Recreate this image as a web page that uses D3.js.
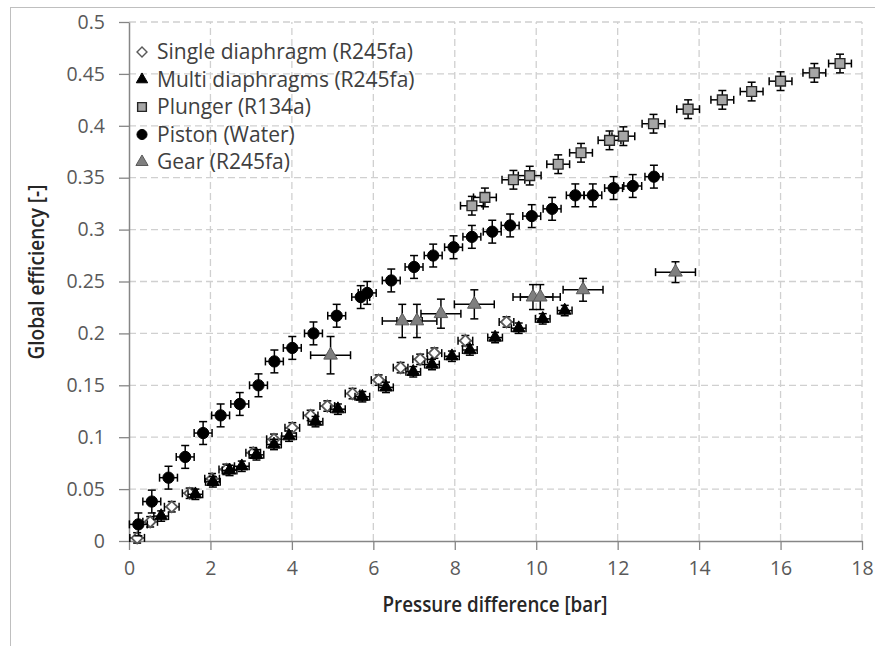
<!DOCTYPE html>
<html>
<head>
<meta charset="utf-8">
<script src="https://cdn.jsdelivr.net/npm/d3@7"></script>
<style>
  body { margin: 0; background: #fff; }
  text { font-family: "Open Sans", "Noto Sans", sans-serif; }
</style>
</head>
<body>
<div id="chart"></div>
<script>
// values
var seriesNames = ["Single diaphragm (R245fa)", "Multi diaphragms (R245fa)", "Plunger (R134a)", "Piston (Water)", "Gear (R245fa)"];

var singleX = [0.2, 0.52, 1.05, 1.49, 2.04, 2.39, 3.05, 3.56, 4.01, 4.46, 4.87, 5.49, 6.13, 6.67, 7.15, 7.5, 8.26, 9.27];
var singleY = [0.003, 0.0185, 0.033, 0.046, 0.06, 0.069, 0.085, 0.098, 0.109, 0.121, 0.13, 0.142, 0.155, 0.167, 0.175, 0.181, 0.193, 0.211];

var multiX = [0.79, 1.63, 2.06, 2.47, 2.77, 3.13, 3.56, 3.93, 4.58, 5.13, 5.73, 6.31, 6.98, 7.44, 7.93, 8.37, 8.99, 9.57, 10.16, 10.7];
var multiY = [0.024, 0.045, 0.057, 0.068, 0.072, 0.083, 0.093, 0.101, 0.115, 0.127, 0.139, 0.148, 0.163, 0.17, 0.178, 0.184, 0.196, 0.205, 0.214, 0.222];

var plungerX = [8.42, 8.74, 9.44, 9.84, 10.54, 11.1, 11.8, 12.14, 12.88, 13.73, 14.57, 15.29, 16.0, 16.83, 17.46];
var plungerY = [0.323, 0.331, 0.348, 0.352, 0.363, 0.374, 0.386, 0.39, 0.402, 0.416, 0.425, 0.433, 0.443, 0.451, 0.46];

var pistonX = [0.23, 0.56, 0.97, 1.38, 1.82, 2.25, 2.72, 3.18, 3.57, 4.01, 4.53, 5.1, 5.69, 5.85, 6.44, 7.0, 7.47, 7.97, 8.42, 8.92, 9.36, 9.89, 10.39, 10.96, 11.39, 11.9, 12.37, 12.89];
var pistonY = [0.016, 0.038, 0.061, 0.081, 0.104, 0.121, 0.132, 0.15, 0.173, 0.186, 0.2, 0.217, 0.235, 0.239, 0.251, 0.264, 0.275, 0.283, 0.293, 0.298, 0.304, 0.313, 0.32, 0.333, 0.333, 0.34, 0.342, 0.351];

var gearX = [4.95, 6.71, 7.07, 7.66, 8.48, 9.92, 10.1, 11.15, 13.42];
var gearY = [0.179, 0.212, 0.212, 0.219, 0.228, 0.235, 0.235, 0.242, 0.259];
var gearYErr = [0.018, 0.016, 0.016, 0.014, 0.014, 0.012, 0.012, 0.011, 0.01];

// error half widths per series: [x, y]
var singleErr = [0.18, 0.005];
var multiErr = [0.18, 0.005];
var plungerErr = [0.28, 0.009];
var pistonErr = [0.22, 0.011];
var gearXErr = 0.49;

var xTicks = [0, 2, 4, 6, 8, 10, 12, 14, 16, 18];
var yTicks = [0, 0.05, 0.1, 0.15, 0.2, 0.25, 0.3, 0.35, 0.4, 0.45, 0.5];
var yTickLabels = ["0", "0.05", "0.1", "0.15", "0.2", "0.25", "0.3", "0.35", "0.4", "0.45", "0.5"];

var width = 875, height = 646;

var x = d3.scaleLinear().domain([0, 18]).range([129, 862]);
var y = d3.scaleLinear().domain([0, 0.5]).range([541, 22]);

var svg = d3.select("#chart").append("svg")
    .attr("width", width)
    .attr("height", height);

// outer frame (cut off at right and bottom like the source)
svg.append("rect")
    .attr("x", 10.5).attr("y", 7.5)
    .attr("width", 900).attr("height", 700)
    .attr("fill", "none")
    .attr("stroke", "#bfbfbf");

// grid
var grid = svg.append("g").attr("stroke", "#d0d0d0").attr("stroke-width", 1.3).attr("stroke-dasharray", "7,4");
grid.selectAll(".gx").data(xTicks.slice(1)).enter().append("line")
    .attr("x1", d => x(d)).attr("x2", d => x(d))
    .attr("y1", y(0)).attr("y2", y(0.5));
grid.selectAll(".gy").data(yTicks.slice(1)).enter().append("line")
    .attr("y1", d => y(d)).attr("y2", d => y(d))
    .attr("x1", x(0)).attr("x2", x(18));

// axes
var yAxis = d3.axisLeft(y).tickValues(yTicks)
    .tickFormat((d, i) => yTickLabels[i])
    .tickSizeInner(10).tickSizeOuter(0).tickPadding(14);
var xAxis = d3.axisBottom(x).tickValues(xTicks)
    .tickFormat(d3.format("d"))
    .tickSizeInner(9).tickSizeOuter(0).tickPadding(11);

var gy = svg.append("g").attr("transform", "translate(" + x(0) + ",0)").call(yAxis);
var gx = svg.append("g").attr("transform", "translate(0," + y(0) + ")").call(xAxis);

[gx, gy].forEach(function(g) {
  g.select(".domain").attr("stroke", "#868686").attr("stroke-width", 1.5);
  g.selectAll(".tick line").attr("stroke", "#868686").attr("stroke-width", 1.3);
  g.selectAll(".tick text")
      .attr("fill", "#595959")
      .style("font-size", "19.5px")
      .style("font-family", "'Open Sans', sans-serif");
});

svg.append("text")
    .attr("x", 495).attr("y", 612)
    .attr("text-anchor", "middle")
    .attr("textLength", 225).attr("lengthAdjust", "spacingAndGlyphs")
    .attr("fill", "#262626")
    .style("font-size", "21px").style("font-weight", 600)
    .text("Pressure difference [bar]");

svg.append("text")
    .attr("transform", "translate(44,272) rotate(-90)")
    .attr("text-anchor", "middle")
    .attr("textLength", 175).attr("lengthAdjust", "spacingAndGlyphs")
    .attr("fill", "#262626")
    .style("font-size", "21px").style("font-weight", 600)
    .text("Global efficiency [-]");

// series table built from the arrays above
var series = [
  {name: seriesNames[0], xs: singleX, ys: singleY, ex: () => singleErr[0], ey: () => singleErr[1],
   type: d3.symbolSquare, size: 62, rot: 45, fill: "#ffffff", stroke: "#595959", sw: 1.8},
  {name: seriesNames[1], xs: multiX, ys: multiY, ex: () => multiErr[0], ey: () => multiErr[1],
   type: d3.symbolTriangle, size: 70, rot: 0, fill: "#000000", stroke: "#000000", sw: 1},
  {name: seriesNames[2], xs: plungerX, ys: plungerY, ex: () => plungerErr[0], ey: () => plungerErr[1],
   type: d3.symbolSquare, size: 95, rot: 0, fill: "#a6a6a6", stroke: "#262626", sw: 1.4},
  {name: seriesNames[3], xs: pistonX, ys: pistonY, ex: () => pistonErr[0], ey: () => pistonErr[1],
   type: d3.symbolCircle, size: 100, rot: 0, fill: "#000000", stroke: "#000000", sw: 1},
  {name: seriesNames[4], xs: gearX, ys: gearY, ex: () => gearXErr, ey: i => gearYErr[i],
   type: d3.symbolTriangle, size: 80, rot: 0, fill: "#7f7f7f", stroke: "#595959", sw: 1}
];

var cap = 4;

series.forEach(function(s) {
  var pts = s.xs.map((v, i) => ({x: v, y: s.ys[i], ex: s.ex(i), ey: s.ey(i)}));
  var g = svg.append("g");

  var eb = g.selectAll(".eb").data(pts).enter().append("g")
      .attr("stroke", "#000").attr("stroke-width", 1.5);
  eb.append("line")
      .attr("x1", d => x(d.x - d.ex)).attr("x2", d => x(d.x + d.ex))
      .attr("y1", d => y(d.y)).attr("y2", d => y(d.y));
  eb.append("line")
      .attr("x1", d => x(d.x - d.ex)).attr("x2", d => x(d.x - d.ex))
      .attr("y1", d => y(d.y) - cap).attr("y2", d => y(d.y) + cap);
  eb.append("line")
      .attr("x1", d => x(d.x + d.ex)).attr("x2", d => x(d.x + d.ex))
      .attr("y1", d => y(d.y) - cap).attr("y2", d => y(d.y) + cap);
  eb.append("line")
      .attr("x1", d => x(d.x)).attr("x2", d => x(d.x))
      .attr("y1", d => y(d.y - d.ey)).attr("y2", d => y(d.y + d.ey));
  eb.append("line")
      .attr("x1", d => x(d.x) - cap).attr("x2", d => x(d.x) + cap)
      .attr("y1", d => y(d.y - d.ey)).attr("y2", d => y(d.y - d.ey));
  eb.append("line")
      .attr("x1", d => x(d.x) - cap).attr("x2", d => x(d.x) + cap)
      .attr("y1", d => y(d.y + d.ey)).attr("y2", d => y(d.y + d.ey));

  g.selectAll(".pt").data(pts).enter().append("path")
      .attr("d", d3.symbol().type(s.type).size(s.size))
      .attr("transform", d => "translate(" + x(d.x) + "," + y(d.y) + ") rotate(" + s.rot + ")")
      .attr("fill", s.fill)
      .attr("stroke", s.stroke)
      .attr("stroke-width", s.sw);
});

// legend
var legend = svg.append("g").attr("transform", "translate(142,52)");
var rows = legend.selectAll("g").data(series).enter().append("g")
    .attr("transform", (d, i) => "translate(0," + i * 27.5 + ")");
rows.append("path")
    .attr("d", d => d3.symbol().type(d.type).size(d.size * 0.8)())
    .attr("transform", d => "rotate(" + d.rot + ")")
    .attr("fill", d => d.fill)
    .attr("stroke", d => d.stroke)
    .attr("stroke-width", d => Math.min(d.sw, 1.4));
rows.append("text")
    .attr("x", 15).attr("dy", "0.35em")
    .attr("fill", "#404040")
    .style("font-size", "21px")
    .text(d => d.name);
</script>
</body>
</html>
